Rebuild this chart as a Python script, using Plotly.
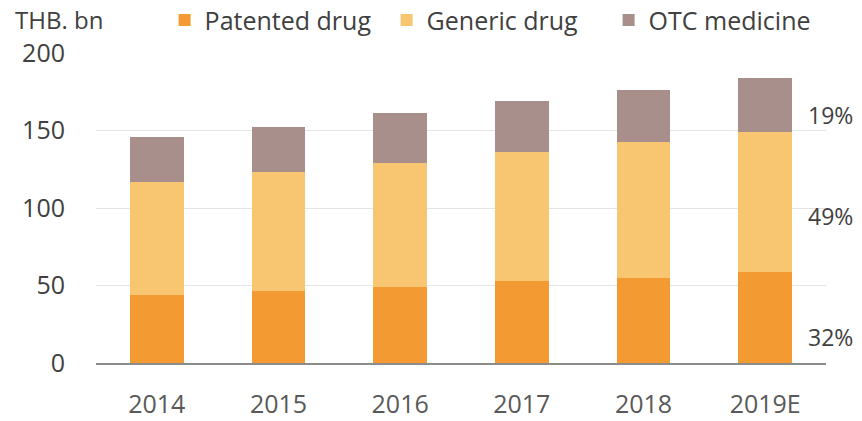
import plotly.graph_objects as go

years = ["2014", "2015", "2016", "2017", "2018", "2019E"]
patented = [44, 46.5, 49, 53, 55, 58.5]
generic = [72.5, 76.5, 80, 83, 87.5, 90.5]
otc = [29, 29.5, 32, 33, 33.5, 35]
series_names = ["Patented drug", "Generic drug", "OTC medicine"]
share_labels = ["32%", "49%", "19%"]
share_y = [17, 95, 160]
y_ticks = [0, 50, 100, 150, 200]

colors = ["#F39A32", "#F8C670", "#A88F8B"]
FONT = "Open Sans"

fig = go.Figure()
for name, vals, c in zip(series_names, [patented, generic, otc], colors):
    fig.add_trace(go.Bar(x=years, y=vals, name=name, marker=dict(color=c, line=dict(width=0))))

for lab, yv in zip(share_labels, share_y):
    fig.add_annotation(x=1.0, xref="paper", xanchor="left", xshift=-20, y=yv, yref="y",
                       text=lab, showarrow=False, font=dict(family=FONT, size=23, color="#404040"))

fig.add_annotation(x=0, xref="paper", xshift=-83, xanchor="left", y=1, yref="paper", yshift=34,
                   yanchor="middle", text="THB. bn", showarrow=False,
                   font=dict(family=FONT, size=24, color="#404040"))

fig.update_layout(
    barmode="stack",
    bargap=0.56,
    width=862, height=421,
    margin=dict(l=96, r=36, t=53, b=58, autoexpand=False),
    paper_bgcolor="white", plot_bgcolor="white",
    font=dict(family=FONT, color="#404040"),
    legend=dict(orientation="h", x=0.094, xanchor="left", y=1.106, yanchor="middle", yref="paper",
                font=dict(family=FONT, size=25, color="#404040"),
                traceorder="normal", itemwidth=30, entrywidth=177),
    xaxis=dict(showline=True, linecolor="#8C8C8C", linewidth=1.5, automargin=False,
               tickfont=dict(family=FONT, size=25, color="#595959"), ticks=""),
    yaxis=dict(range=[0, 200], tickvals=y_ticks, showgrid=True, gridcolor="#E4E4E4",
               zeroline=False, ticks="", ticklen=0, automargin=False,
               tickfont=dict(family=FONT, size=25, color="#404040")),
)
fig.update_yaxes(ticklabelstandoff=30)
fig.update_xaxes(ticklabelstandoff=18)
fig.write_html("out.html")
